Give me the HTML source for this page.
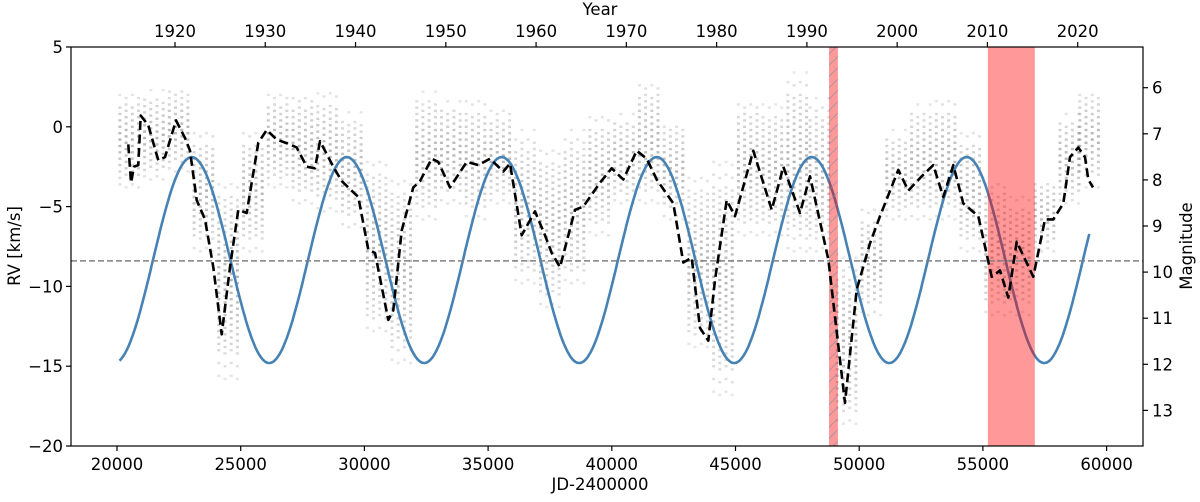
<!DOCTYPE html>
<html><head><meta charset="utf-8"><style>
html,body{margin:0;padding:0;background:#fff}
svg text{font-family:"DejaVu Sans","Liberation Sans",sans-serif;fill:#000}
</style></head><body>
<svg id="chart" width="1200" height="497" viewBox="0 0 1200 497" xmlns="http://www.w3.org/2000/svg">
<rect x="0" y="0" width="1200" height="497" fill="#fff"/>
<g id="plot"></g>
</svg>
<script>
const curveJD=[20457,20566,20687,20861,20958,21265,21669,21940,22385,22749,22951,23221,23557,23892,24232,24567,24903,25242,25711,26051,26455,26993,27264,27668,28003,28205,28743,29082,29753,30158,30428,30966,31168,31508,31977,32247,32720,32987,33460,34135,34604,35077,35614,35885,36358,36896,37300,37571,37906,38512,38848,39523,39996,40465,41006,41410,41815,42486,42890,43229,43565,43900,44171,44644,44980,45719,46463,46798,46932,47607,48011,48751,49426,49899,50436,50840,51580,51984,52526,52995,53399,53803,54208,54814,55355,55691,56026,56366,57037,57510,57845,58249,58520,58856,59127,59260,59450];
const curveRV=[-1.1,-3.5,-2.5,-2.4,0.7,0.1,-2.1,-1.9,0.4,-0.7,-1.5,-4.6,-5.8,-8.8,-13.0,-8.8,-5.2,-5.4,-1.0,-0.2,-0.8,-1.1,-1.3,-2.5,-2.6,-0.9,-2.5,-3.4,-4.4,-7.7,-7.9,-12.1,-11.5,-6.5,-3.8,-3.4,-2.0,-2.2,-3.8,-2.2,-2.4,-2.0,-2.8,-2.3,-6.8,-5.3,-6.8,-7.9,-8.8,-5.2,-5.0,-3.5,-2.6,-3.3,-1.5,-2.0,-3.3,-4.8,-8.5,-8.2,-12.6,-13.4,-9.6,-4.6,-5.6,-1.5,-5.2,-3.3,-2.5,-5.4,-3.1,-8.3,-17.3,-10.2,-7.3,-5.6,-2.7,-4.0,-3.1,-2.4,-4.4,-2.4,-4.8,-5.6,-9.4,-9.0,-10.7,-7.2,-9.4,-5.8,-5.8,-4.8,-1.9,-1.3,-1.9,-3.3,-3.8];
const scatterJD=[20500,21500,22500,23500,24500,25500,26500,27500,28500,29500,30500,31500,32500,33500,34500,35500,36500,37500,38500,39500,40500,41500,42500,43500,44500,45500,46500,47500,48400,49500,50500,51500,52500,53500,54500,55500,56500,57500,58500,59300];
const scatterHi=[2.3,2.3,2.5,0,-3,0,2.3,2.3,2.3,1,-2,-3,2.3,1.8,1.8,1.3,0,-1,0,1,1,3,0.5,-3,-2,2,1.5,3.5,2,-8,-5,0,1.5,2,0,-3,-4,-3,1,2.5];
const scatterLo=[-4,-3.5,-3,-8,-16,-8,-4,-5,-5.5,-6.5,-13,-15,-6,-5,-6,-5,-10,-11.5,-10,-7,-5,-5,-6,-14,-17,-7,-7,-8,-8,-18.8,-12,-6,-6,-6,-8,-12,-12,-8,-5,-4];
const model={period:6265,peakJD:23020,mean:-8.35,amp:6.45,start:20100,end:59300};
const bands=[{from:48780,to:49140,hatch:true},{from:55200,to:57100,hatch:false}];
const refRV=-8.4;
const rvTicks=[5,0,-5,-10,-15,-20];
const jdTicks=[20000,25000,30000,35000,40000,45000,50000,55000,60000];
const yearTicks=[1920,1930,1940,1950,1960,1970,1980,1990,2000,2010,2020];
const magTicks=[6,7,8,9,10,11,12,13];

const L=71,R=1143,T=47,B=446;
const xJD=j=>117+(j-20000)*0.02474;
const yRV=v=>47+(5-v)*15.96;
const xYear=y=>175+(y-1920)*9.027;
const yMag=m=>87.7+(m-6)*46.1;
const NS='http://www.w3.org/2000/svg';
const plot=document.getElementById('plot');
function mk(tag,attrs,parent){const e=document.createElementNS(NS,tag);for(const k in attrs)e.setAttribute(k,attrs[k]);(parent||plot).appendChild(e);return e;}
const fmt=v=>String(v).replace('-','\u2212');

const defs=mk('defs',{});
const pat=mk('pattern',{id:'hatch',patternUnits:'userSpaceOnUse',width:8,height:8,patternTransform:'rotate(45)'},defs);
mk('rect',{x:0,y:0,width:8,height:8,fill:'rgba(255,0,0,0.4)'},pat);
mk('line',{x1:0,y1:0,x2:0,y2:8,stroke:'#7a8fa0','stroke-width':1.2},pat);
const clip=mk('clipPath',{id:'clip'},defs);
mk('rect',{x:L,y:T,width:R-L,height:B-T},clip);

const sg=mk('g',{'clip-path':'url(#clip)'});


scatterJD.forEach((j,i)=>{
  const x0=xJD(j)-11;
  const lo=scatterLo[i],hi=scatterHi[i],mid=(lo+hi)/2,half=Math.max((hi-lo)/2,0.5);
  for(let c=0;c<4;c++){
    let k=0;
    for(let v=lo+(c%2)*0.2;v<=hi;v+=0.4,k++){
      const d=Math.abs(v-mid)/half;
      if(d>0.75 && (k+c)%2===0) continue;
      const op=(0.55*(1-d*0.7)).toFixed(2);
      mk('rect',{x:(x0+c*6.2).toFixed(1),y:(yRV(v)-1.2).toFixed(1),width:3,height:2.4,fill:'#777','fill-opacity':op},sg);
    }
  }
});

let pts=[];
for(let j=model.start;j<=model.end;j+=40){
  const v=model.mean+model.amp*Math.cos(2*Math.PI*(j-model.peakJD)/model.period);
  pts.push(xJD(j).toFixed(1)+','+yRV(v).toFixed(1));
}
const sine=mk('polyline',{points:pts.join(' '),fill:'none',stroke:'#4682b4','stroke-width':2.6});



bands.forEach((b,i)=>{
  const r=mk('rect',{x:xJD(b.from),y:T,width:xJD(b.to)-xJD(b.from),height:B-T,fill:b.hatch?'url(#hatch)':'rgba(255,0,0,0.4)'});
  
  
});

const ref=mk('line',{x1:L,x2:R,y1:yRV(refRV),y2:yRV(refRV),stroke:'#808080','stroke-width':1.6,'stroke-dasharray':'6,3'});



const cp=curveJD.map((j,i)=>xJD(j).toFixed(1)+','+yRV(curveRV[i]).toFixed(1)).join(' ');
const dc=mk('polyline',{points:cp,fill:'none',stroke:'#000','stroke-width':2.6,'stroke-dasharray':'9,4.5','stroke-linejoin':'round'});



const fr=mk('rect',{x:L,y:T,width:R-L,height:B-T,fill:'none',stroke:'#000','stroke-width':1.2});



rvTicks.forEach(v=>{
  const y=yRV(v);
  mk('line',{x1:L-5,x2:L,y1:y,y2:y,stroke:'#000','stroke-width':1.2});
  const t=mk('text',{x:L-8,y:y+6,'text-anchor':'end','font-size':16.5});t.textContent=fmt(v);
  
  
});
jdTicks.forEach(v=>{
  const x=xJD(v);
  mk('line',{x1:x,x2:x,y1:B,y2:B+5,stroke:'#000','stroke-width':1.2});
  const t=mk('text',{x:x,y:B+24,'text-anchor':'middle','font-size':16.5});t.textContent=v;
  
  
});
yearTicks.forEach(v=>{
  const x=xYear(v);
  mk('line',{x1:x,x2:x,y1:T-5,y2:T,stroke:'#000','stroke-width':1.2});
  const t=mk('text',{x:x,y:T-10,'text-anchor':'middle','font-size':16.5});t.textContent=v;
  
  
});
magTicks.forEach(v=>{
  const y=yMag(v);
  mk('line',{x1:R,x2:R+5,y1:y,y2:y,stroke:'#000','stroke-width':1.2});
  const t=mk('text',{x:R+9,y:y+6,'text-anchor':'start','font-size':16.5});t.textContent=v;
  
  
});

let t;
t=mk('text',{x:600,y:490,'text-anchor':'middle','font-size':16.5});t.textContent='JD-2400000';


t=mk('text',{x:600,y:15,'text-anchor':'middle','font-size':16.5});t.textContent='Year';


t=mk('text',{x:0,y:0,'text-anchor':'middle','font-size':16.5,transform:'translate(20,246) rotate(-90)'});t.textContent='RV [km/s]';


t=mk('text',{x:0,y:0,'text-anchor':'middle','font-size':16.5,transform:'translate(1192,246) rotate(-90)'});t.textContent='Magnitude';


</script>
</body></html>
